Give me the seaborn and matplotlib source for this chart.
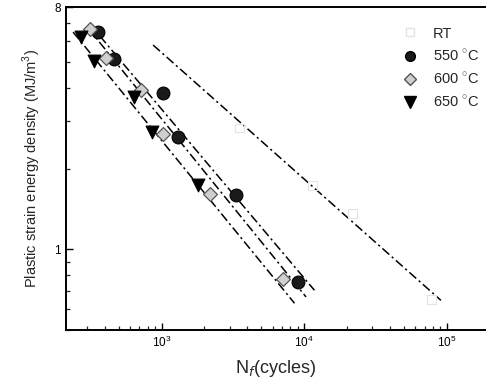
import matplotlib
matplotlib.use("Agg")
import matplotlib.pyplot as plt
from matplotlib.lines import Line2D
from matplotlib.ticker import LogLocator, NullFormatter, FixedLocator, FixedFormatter
import numpy as np
import pandas as pd
import seaborn as sns

# measured points (cycles to failure, plastic strain energy density MJ/m^3)
nf_550 = [357, 467, 1016, 1306, 3342, 9020]
w_550 = [6.47, 5.10, 3.83, 2.61, 1.59, 0.755]
nf_600 = [315, 408, 716, 1016, 2203, 7080]
w_600 = [6.60, 5.15, 3.92, 2.70, 1.60, 0.773]
nf_650 = [273, 338, 643, 851, 1803]
w_650 = [6.20, 5.04, 3.68, 2.74, 1.73]
nf_rt = [3530, 11400, 21800, 77600]
w_rt = [2.83, 1.73, 1.36, 0.65]

# fitted lines (end points)
fit_nf = {"RT": [873, 90800], "550": [370, 11800], "600": [305, 10300], "650": [240, 8550]}
fit_w = {"RT": [5.77, 0.645], "550": [6.23, 0.703], "600": [6.68, 0.664], "650": [6.45, 0.629]}

sns.set_style("ticks")
plt.rcParams["font.family"] = ["Liberation Sans", "DejaVu Sans"]
plt.rcParams["mathtext.fontset"] = "custom"
plt.rcParams["mathtext.rm"] = "Liberation Sans"

fig = plt.figure(figsize=(4.86, 3.92), dpi=100)
ax = fig.add_axes([66 / 486, 62 / 392, 1 - 66 / 486, (330 - 7) / 392])
ax.set_xscale("log")
ax.set_yscale("log")

for key in ["RT", "550", "600", "650"]:
    seg = pd.DataFrame({"nf": fit_nf[key], "w": fit_w[key]})
    sns.lineplot(data=seg, x="nf", y="w", ax=ax, color="black", lw=1.1,
                 dashes=False, legend=False, sort=False)
for line in ax.lines:
    line.set_dashes([6, 2.2, 1.4, 2.2])

styles = {
    "RT": dict(marker="s", s=40, facecolor="none", edgecolor="#e4e4e4", linewidth=0.8),
    "550": dict(marker="o", s=85, facecolor="#1a1a1a", edgecolor="#000000", linewidth=0.8),
    "600": dict(marker="D", s=50, facecolor="#cfcfcf", edgecolor="#555555", linewidth=0.9),
    "650": dict(marker="v", s=85, facecolor="#000000", edgecolor="#000000", linewidth=0.8),
}
series = {"RT": (nf_rt, w_rt), "550": (nf_550, w_550), "600": (nf_600, w_600), "650": (nf_650, w_650)}
for key, (xs, ys) in series.items():
    df = pd.DataFrame({"nf": xs, "w": ys})
    sns.scatterplot(data=df, x="nf", y="w", ax=ax, legend=False, zorder=3, **styles[key])

ax.set_xlim(214, 1.88e5)
ax.set_ylim(0.5, 8)

ax.xaxis.set_major_locator(FixedLocator([1e3, 1e4, 1e5]))
ax.xaxis.set_major_formatter(FixedFormatter(["$10^3$", "$10^4$", "$10^5$"]))
ax.xaxis.set_minor_locator(LogLocator(base=10, subs=np.arange(2, 10)))
ax.xaxis.set_minor_formatter(NullFormatter())
ax.yaxis.set_major_locator(FixedLocator([1, 8]))
ax.yaxis.set_major_formatter(FixedFormatter(["1", "8"]))
ax.yaxis.set_minor_locator(LogLocator(base=10, subs=np.arange(2, 10)))
ax.yaxis.set_minor_formatter(NullFormatter())
ax.tick_params(which="major", direction="in", length=5, width=1.0, labelsize=8.5, colors="black")
ax.tick_params(which="minor", direction="in", length=3, width=0.9)

for side in ["left", "bottom", "top"]:
    ax.spines[side].set_linewidth(1.4)
    ax.spines[side].set_color("black")
ax.spines["right"].set_visible(False)

ax.set_xlabel("N$_f$(cycles)", fontsize=13, labelpad=6)
ax.set_ylabel("Plastic strain energy density (MJ/m$^3$)", fontsize=10.5, labelpad=8)

handles = [
    Line2D([], [], linestyle="none", marker="s", markersize=6, markerfacecolor="none",
           markeredgecolor="#e4e4e4", label="RT"),
    Line2D([], [], linestyle="none", marker="o", markersize=7, markerfacecolor="#1a1a1a",
           markeredgecolor="black", label="550 $^{\\circ}$C"),
    Line2D([], [], linestyle="none", marker="D", markersize=6, markerfacecolor="#cfcfcf",
           markeredgecolor="#555555", label="600 $^{\\circ}$C"),
    Line2D([], [], linestyle="none", marker="v", markersize=8, markerfacecolor="black",
           markeredgecolor="black", label="650 $^{\\circ}$C"),
]
ax.legend(handles=handles, loc="upper right", bbox_to_anchor=(1.015, 0.98), frameon=False,
          fontsize=10.5, handletextpad=0.8, labelspacing=0.55, handlelength=1.5)

fig.savefig("out.png", dpi=100, facecolor="white")
